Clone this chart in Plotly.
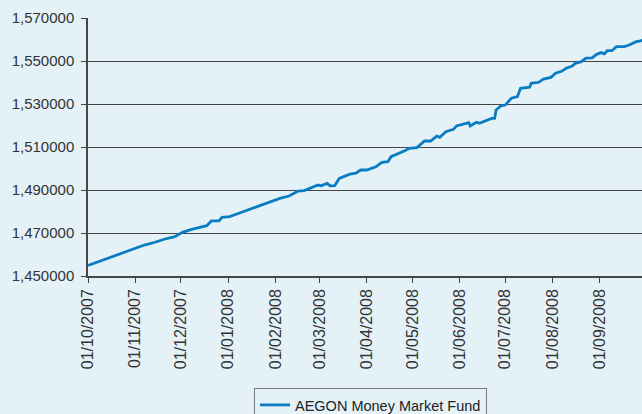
import plotly.graph_objects as go

dates = [
    "2007-10-01", "2007-10-06", "2007-10-12", "2007-10-19", "2007-10-25",
    "2007-11-01", "2007-11-07", "2007-11-14", "2007-11-20", "2007-11-27",
    "2007-12-02", "2007-12-08", "2007-12-13", "2007-12-18", "2007-12-21",
    "2007-12-26", "2007-12-28", "2008-01-02", "2008-01-09", "2008-01-15",
    "2008-01-22", "2008-01-28", "2008-02-04", "2008-02-10", "2008-02-16",
    "2008-02-20", "2008-02-27", "2008-02-29", "2008-03-02", "2008-03-06",
    "2008-03-08", "2008-03-11", "2008-03-14", "2008-03-17", "2008-03-21",
    "2008-03-25", "2008-03-28", "2008-04-01", "2008-04-07", "2008-04-11",
    "2008-04-15", "2008-04-17", "2008-04-21", "2008-04-26", "2008-04-29",
    "2008-05-04", "2008-05-09", "2008-05-13", "2008-05-17", "2008-05-19",
    "2008-05-23", "2008-05-28", "2008-05-30", "2008-06-05", "2008-06-07",
    "2008-06-08", "2008-06-12", "2008-06-14", "2008-06-19", "2008-06-22",
    "2008-06-24", "2008-06-25", "2008-06-28", "2008-07-01", "2008-07-03",
    "2008-07-05", "2008-07-09", "2008-07-11", "2008-07-17", "2008-07-18",
    "2008-07-23", "2008-07-26", "2008-07-31", "2008-08-03", "2008-08-07",
    "2008-08-10", "2008-08-14", "2008-08-16", "2008-08-20", "2008-08-23",
    "2008-08-27", "2008-08-30", "2008-09-02", "2008-09-04", "2008-09-06",
    "2008-09-09", "2008-09-12", "2008-09-17", "2008-09-20", "2008-09-22",
    "2008-09-25", "2008-09-28", "2008-09-30",
]
values = [
    1.4549, 1.4562, 1.4578, 1.4598, 1.4613,
    1.4632, 1.4644, 1.4657, 1.4671, 1.4683,
    1.4703, 1.4717, 1.4725, 1.4734, 1.4756,
    1.4756, 1.4773, 1.4776, 1.4794, 1.4810,
    1.4830, 1.4846, 1.4861, 1.4872, 1.4895,
    1.4897, 1.4915, 1.4923, 1.4920, 1.4931,
    1.4919, 1.4920, 1.4954, 1.4962, 1.4974,
    1.4978, 1.4993, 1.4993, 1.5008, 1.5029,
    1.5032, 1.5055, 1.5066, 1.5083, 1.5094,
    1.5097, 1.5128, 1.5128, 1.5151, 1.5145,
    1.5171, 1.5182, 1.5198, 1.5207, 1.5213,
    1.5198, 1.5215, 1.5210, 1.5226, 1.5233,
    1.5233, 1.5272, 1.5291, 1.5295, 1.5311,
    1.5327, 1.5334, 1.5373, 1.5378, 1.5396,
    1.5401, 1.5416, 1.5424, 1.5443, 1.5452,
    1.5466, 1.5477, 1.5489, 1.5497, 1.5513,
    1.5515, 1.5531, 1.5539, 1.5533, 1.5548,
    1.5548, 1.5567, 1.5567, 1.5573, 1.5579,
    1.5590, 1.5594, 1.5600,
]
series_name = "AEGON Money Market Fund"

y_tickvals = [1.45, 1.47, 1.49, 1.51, 1.53, 1.55, 1.57]
y_ticktext = ["1,450000", "1,470000", "1,490000", "1,510000", "1,530000", "1,550000", "1,570000"]

bg = "#E4F2F8"
text_col = "#333333"
grid_col = "#454545"

fig = go.Figure()
fig.add_trace(go.Scatter(
    x=dates, y=values, mode="lines", name=series_name,
    line=dict(color="#0A7CC2", width=2.8),
))

fig.update_layout(
    width=642, height=414,
    margin=dict(l=88, r=0, t=18, b=138, autoexpand=False),
    paper_bgcolor=bg, plot_bgcolor=bg,
    font=dict(family="Liberation Sans, Arial, sans-serif", color=text_col, size=15),
    showlegend=True,
    legend=dict(
        x=0.2996, y=-0.434, xanchor="left", yanchor="top",
        orientation="h", bgcolor=bg, bordercolor="#7a7a7a", borderwidth=1,
        font=dict(size=14.5, color="#222222"),
    ),
    xaxis=dict(
        type="date", automargin=False,
        range=["2007-10-01", "2008-09-28 19:00"],
        tick0="2007-10-01", dtick="M1", tickformat="%d/%m/%Y",
        tickangle=-90, ticks="outside", ticklen=5, tickcolor=grid_col,
        tickfont=dict(size=16),
        showgrid=False, showline=True, linecolor=grid_col, linewidth=1.5,
        zeroline=False,
    ),
    yaxis=dict(
        automargin=False,
        range=[1.45, 1.57], tickvals=y_tickvals, ticktext=y_ticktext,
        ticks="outside", ticklen=5, tickcolor=grid_col,
        showgrid=True, gridcolor=grid_col, gridwidth=1.3,
        showline=True, linecolor=grid_col, linewidth=1.5,
        zeroline=False, ticklabelstandoff=4,
    ),
)

fig.write_html(
    "out.html",
    config={"displayModeBar": False},
    post_script="document.body.style.margin='0';document.body.style.background='#E4F2F8';",
)
